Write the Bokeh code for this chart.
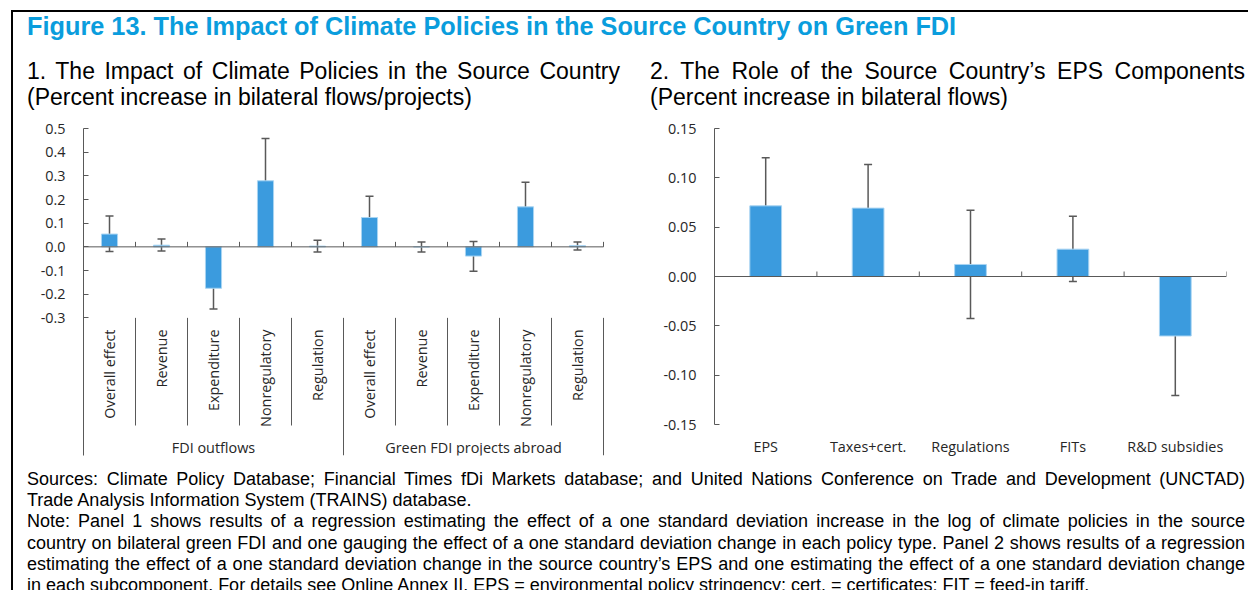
from math import pi
from bokeh.plotting import figure
from bokeh.models import (Range1d, FixedTicker, NumeralTickFormatter, Whisker, TeeHead,
                          ColumnDataSource, Div)
from bokeh.layouts import column, row
from bokeh.embed import file_html
from bokeh.resources import INLINE
from bokeh.core.properties import value

# ---------------- data ----------------
p1_categories = ["Overall effect", "Revenue", "Expenditure", "Nonregulatory", "Regulation"]
p1_groups = ["FDI outflows", "Green FDI projects abroad"]
fdi_outflows = [0.054, 0.007, -0.175, 0.279, 0.003]
fdi_outflows_low = [-0.020, -0.018, -0.263, 0.101, -0.022]
fdi_outflows_high = [0.130, 0.033, -0.086, 0.458, 0.028]
green_fdi = [0.124, 0.000, -0.039, 0.169, 0.005]
green_fdi_low = [0.037, -0.022, -0.103, 0.065, -0.013]
green_fdi_high = [0.214, 0.021, 0.023, 0.273, 0.021]
p1_y_ticks = [-0.3, -0.2, -0.1, 0.0, 0.1, 0.2, 0.3, 0.4, 0.5]

p2_categories = ["EPS", "Taxes+cert.", "Regulations", "FITs", "R&D subsidies"]
p2_values = [0.0716, 0.0693, 0.0122, 0.0277, -0.0603]
p2_low = [0.0233, 0.0253, -0.0426, -0.0051, -0.1205]
p2_high = [0.1203, 0.1135, 0.0672, 0.0611, -0.0005]
p2_y_ticks = [-0.15, -0.10, -0.05, 0.0, 0.05, 0.10, 0.15]

title_text = "Figure 13. The Impact of Climate Policies in the Source Country on Green FDI"
sub1_lines = ["1. The Impact of Climate Policies in the Source Country",
              "(Percent increase in bilateral flows/projects)"]
sub2_lines = ["2. The Role of the Source Country\u2019s EPS Components",
              "(Percent increase in bilateral flows)"]
note_paragraphs = [
    ["Sources: Climate Policy Database; Financial Times fDi Markets database; and United Nations Conference on Trade and Development (UNCTAD)",
     "Trade Analysis Information System (TRAINS) database."],
    ["Note: Panel 1 shows results of a regression estimating the effect of a one standard deviation increase in the log of climate policies in the source",
     "country on bilateral green FDI and one gauging the effect of a one standard deviation change in each policy type. Panel 2 shows results of a regression",
     "estimating the effect of a one standard deviation change in the source country\u2019s EPS and one estimating the effect of a one standard deviation change",
     "in each subcomponent. For details see Online Annex II. EPS = environmental policy stringency; cert. = certificates; FIT = feed-in tariff."],
]

# ---------------- styles ----------------
BAR_FILL = "#3B9BDE"
BAR_LINE = "#A8D4F2"
ERR = "#595959"
AXIS = "#595959"
TEXT = "#262626"
TITLE_BLUE = "#0A9DDD"
AX_FONT = "Open Sans"
AX_SIZE = "14.4px"
TXT_FONT = "Liberation Sans, Arial, sans-serif"

FIG_H = 358
BAR_W = 0.31


def style_y_axis(p, ticks, fmt):
    ax = p.yaxis[0]
    ax.ticker = FixedTicker(ticks=ticks)
    ax.formatter = NumeralTickFormatter(format=fmt)
    ax.major_tick_in = 5
    ax.major_tick_out = 0
    ax.minor_tick_line_color = None
    ax.axis_line_color = AXIS
    ax.major_tick_line_color = AXIS
    ax.major_label_text_font = AX_FONT
    ax.major_label_text_font_size = AX_SIZE
    ax.major_label_text_color = TEXT
    ax.major_label_standoff = 18


# ---------------- panel 1 ----------------
W1 = 627
L1, R1, T1, B1 = 70, 32, 18, 13
frame_h1 = FIG_H - T1 - B1
frame_w1 = W1 - L1 - R1
PPU1 = 236.7            # pixels per unit on the y axis
SLOT1 = 52.0            # pixels per category slot
y1_max = p1_y_ticks[-1]
y1_min = y1_max - frame_h1 / PPU1
x1_max = frame_w1 / SLOT1


def y1_px(px):
    """data y at px pixels below the frame top"""
    return y1_max - px / PPU1


p1 = figure(width=W1, height=FIG_H, x_range=Range1d(0, x1_max), y_range=Range1d(y1_min, y1_max),
            output_backend="svg", toolbar_location=None, x_axis_location=None, title=None,
            min_border_left=L1, min_border_right=R1, min_border_top=T1, min_border_bottom=B1)
p1.outline_line_color = None
p1.grid.visible = False
style_y_axis(p1, p1_y_ticks, "0.0")

n_cat = len(p1_categories)
n1 = n_cat * len(p1_groups)
labels1 = p1_categories * len(p1_groups)
src1 = ColumnDataSource(dict(
    x=[i + 0.5 for i in range(n1)],
    val=fdi_outflows + green_fdi,
    low=fdi_outflows_low + green_fdi_low,
    high=fdi_outflows_high + green_fdi_high,
    lab=labels1,
))
p1.vbar(x="x", top="val", bottom=0, width=BAR_W, source=src1,
        fill_color=BAR_FILL, line_color=BAR_LINE, line_width=1)
p1.add_layout(Whisker(source=src1, base="x", upper="high", lower="low",
                      line_color=ERR, line_width=1.5,
                      upper_head=TeeHead(size=8, line_color=ERR, line_width=1.5),
                      lower_head=TeeHead(size=8, line_color=ERR, line_width=1.5)))

# category axis at zero, with tick marks at slot boundaries
p1.segment(x0=0, y0=0, x1=n1, y1=0, line_color=AXIS, line_width=1)
bounds1 = list(range(1, n1 + 1))
p1.segment(x0=bounds1, y0=[0] * len(bounds1), x1=bounds1, y1=[5 / PPU1] * len(bounds1),
           line_color=AXIS, line_width=1)

# multi-level category labels below plot area
plot_bottom = p1_y_ticks[0]
inner = [b for b in range(1, n1) if b % n_cat != 0]
outer = [b for b in range(n_cat, n1 + 1, n_cat)]
p1.segment(x0=inner, y0=[plot_bottom] * len(inner), x1=inner, y1=[y1_px(297)] * len(inner),
           line_color=AXIS, line_width=1)
p1.segment(x0=outer, y0=[plot_bottom] * len(outer), x1=outer, y1=[y1_min] * len(outer),
           line_color=AXIS, line_width=1)
p1.text(x="x", y=y1_px(201), text="lab", source=src1, angle=pi / 2,
        text_align="right", text_baseline="middle",
        text_font=value(AX_FONT), text_font_size=AX_SIZE, text_color=TEXT)
p1.text(x=[n_cat * (g + 0.5) for g in range(len(p1_groups))], y=[y1_px(319)] * len(p1_groups),
        text=p1_groups, text_align="center", text_baseline="middle",
        text_font=value(AX_FONT), text_font_size=AX_SIZE, text_color=TEXT)

# ---------------- panel 2 ----------------
W2 = 608
L2, R2, T2, B2 = 74, 22, 18, 44
n2 = len(p2_categories)
p2 = figure(width=W2, height=FIG_H, x_range=Range1d(0, n2),
            y_range=Range1d(p2_y_ticks[0], p2_y_ticks[-1]),
            output_backend="svg", toolbar_location=None, title=None,
            min_border_left=L2, min_border_right=R2, min_border_top=T2, min_border_bottom=B2)
p2.outline_line_color = None
p2.grid.visible = False
style_y_axis(p2, p2_y_ticks, "0.00")
PPU2 = (FIG_H - T2 - B2) / (p2_y_ticks[-1] - p2_y_ticks[0])

xc2 = [i + 0.5 for i in range(n2)]
xa = p2.xaxis[0]
xa.ticker = FixedTicker(ticks=xc2)
xa.major_label_overrides = {c: lab for c, lab in zip(xc2, p2_categories)}
xa.axis_line_color = None
xa.major_tick_line_color = None
xa.minor_tick_line_color = None
xa.major_tick_in = 0
xa.major_tick_out = 0
xa.major_label_standoff = 12
xa.major_label_text_font = AX_FONT
xa.major_label_text_font_size = AX_SIZE
xa.major_label_text_color = TEXT

src2 = ColumnDataSource(dict(x=xc2, val=p2_values, low=p2_low, high=p2_high))
p2.vbar(x="x", top="val", bottom=0, width=BAR_W, source=src2,
        fill_color=BAR_FILL, line_color=BAR_LINE, line_width=1)
p2.add_layout(Whisker(source=src2, base="x", upper="high", lower="low",
                      line_color=ERR, line_width=1.5,
                      upper_head=TeeHead(size=8, line_color=ERR, line_width=1.5),
                      lower_head=TeeHead(size=8, line_color=ERR, line_width=1.5)))
p2.segment(x0=0, y0=0, x1=n2, y1=0, line_color=AXIS, line_width=1)
bounds2 = list(range(1, n2 + 1))
p2.segment(x0=bounds2, y0=[0] * n2, x1=bounds2, y1=[5 / PPU2] * n2, line_color=AXIS, line_width=1)

# ---------------- text blocks ----------------
def lines_html(lines):
    out = []
    for i, ln in enumerate(lines):
        if i < len(lines) - 1:
            out.append(f'<div style="text-align:justify;text-align-last:justify;white-space:nowrap">{ln}</div>')
        else:
            out.append(f'<div style="white-space:nowrap">{ln}</div>')
    return "".join(out)


OUTER_W = W1 + W2
TITLE_H, SUB_H, NOTES_H = 46, 52, 128

title_div = Div(text=(f'<div style="font-family:{TXT_FONT};font-weight:bold;font-size:25.3px;'
                      f'line-height:28px;color:{TITLE_BLUE};margin-left:14px;margin-top:0px;white-space:nowrap">'
                      f'{title_text}</div>'),
                width=OUTER_W, height=TITLE_H, margin=(0, 0, 0, 0))

sub_style = f"font-family:{TXT_FONT};font-size:23px;line-height:26px;color:#000;"
sub1 = Div(text=f'<div style="{sub_style}margin-left:14px;width:593px">{lines_html(sub1_lines)}</div>',
           width=W1, height=SUB_H, margin=(0, 0, 0, 0))
sub2 = Div(text=f'<div style="{sub_style}margin-left:10px;width:595px">{lines_html(sub2_lines)}</div>',
           width=W2, height=SUB_H, margin=(0, 0, 0, 0))

notes_html = "".join(lines_html(par) for par in note_paragraphs)
notes_div = Div(text=(f'<div style="font-family:{TXT_FONT};font-size:18px;line-height:21.2px;color:#000;'
                      f'margin-left:14px;margin-top:1px;width:1218px">{notes_html}</div>'),
                width=OUTER_W, height=NOTES_H, margin=(0, 0, 0, 0))

content = column(
    title_div,
    row(column(sub1, p1, spacing=0), column(sub2, p2, spacing=0), spacing=0),
    notes_div,
    spacing=0,
)

# frame of the exhibit: black rules on the top and left sides only
RULE = 2
content_h = TITLE_H + SUB_H + FIG_H + NOTES_H
top_rule = Div(text="", width=OUTER_W + RULE, height=RULE, margin=(0, 0, 0, 0),
               styles={"background-color": "#000"})
left_rule = Div(text="", width=RULE, height=content_h, margin=(0, 0, 0, 0),
                styles={"background-color": "#000"})

layout = column(
    top_rule,
    row(left_rule, content, spacing=0),
    spacing=0,
    styles={"margin-left": "11px", "margin-top": "10px"},
)

html = file_html(layout, INLINE)
html = html.replace("<head>", "<head><style>html,body{overflow:hidden}</style>", 1)
open("out.html", "w").write(html)
